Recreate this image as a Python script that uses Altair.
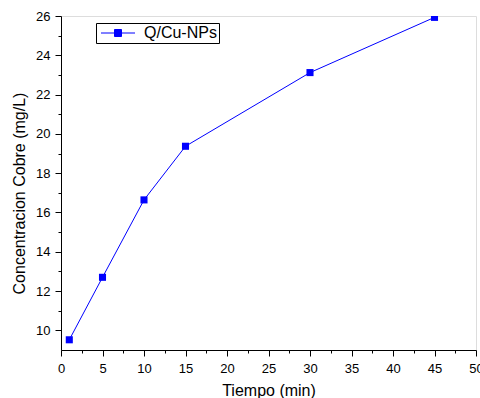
import altair as alt
import pandas as pd

# Data
tiempo = [1, 5, 10, 15, 30, 45]
cobre = [9.52, 12.70, 16.64, 19.37, 23.12, 25.93]
serie = ["Q/Cu-NPs"] * len(tiempo)

x_major = [0, 5, 10, 15, 20, 25, 30, 35, 40, 45, 50]
x_minor = [2.5, 7.5, 12.5, 17.5, 22.5, 27.5, 32.5, 37.5, 42.5, 47.5]
y_major = [10, 12, 14, 16, 18, 20, 22, 24, 26]
y_minor = [11, 13, 15, 17, 19, 21, 23, 25]

df = pd.DataFrame({"Tiempo": tiempo, "Cobre": cobre, "Serie": serie})

FONT = "Liberation Sans"
BLUE = "#0000ff"

xscale = alt.Scale(domain=[0, 50], nice=False, zero=False)
yscale = alt.Scale(domain=[9, 26], nice=False, zero=False)

# legend glyph: line segment with a square in the middle (units scaled by 5 px)
legend_path = "M-1,0L5.8,0M1.7,-0.7L3.1,-0.7L3.1,0.7L1.7,0.7Z"

base = alt.Chart(df)

line = base.mark_line(color=BLUE, strokeWidth=1, clip=True).encode(
    x=alt.X("Tiempo:Q", scale=xscale,
            axis=alt.Axis(values=x_major, title="Tiempo (min)", orient="bottom",
                          tickSize=6, labelPadding=6, labelFontSize=13,
                          titleFontSize=16, titleFontWeight="normal",
                          titleBaseline="alphabetic", titleY=45,
                          grid=False, domainColor="black", tickColor="black",
                          labelColor="black", titleColor="black",
                          labelFlush=False, labelOverlap=False)),
    y=alt.Y("Cobre:Q", scale=yscale,
            axis=alt.Axis(values=y_major, title="Concentracion Cobre (mg/L)", orient="left",
                          tickSize=6, labelPadding=5, labelFontSize=13,
                          titleFontSize=16, titleFontWeight="normal",
                          titleBaseline="alphabetic", titleX=-37, titleY=177,
                          grid=False, domainColor="black", tickColor="black",
                          labelColor="black", titleColor="black",
                          labelFlush=False, labelOverlap=False)),
    color=alt.Color("Serie:N", scale=alt.Scale(range=[BLUE]),
                    legend=alt.Legend(title=None, orient="none", legendX=35, legendY=7,
                                      symbolType=legend_path, symbolSize=100,
                                      symbolStrokeWidth=1, symbolStrokeColor=BLUE,
                                      symbolFillColor=BLUE, labelFontSize=16,
                                      labelColor="black", labelOffset=30,
                                      padding=2, strokeColor="black", fillColor="white",
                                      labelFont=FONT)),
)

points = base.mark_point(shape="square", filled=True, size=50, color=BLUE,
                         opacity=1, clip=True).encode(
    x=alt.X("Tiempo:Q", scale=xscale, axis=None),
    y=alt.Y("Cobre:Q", scale=yscale, axis=None),
)

minor = base.mark_point(opacity=0).encode(
    x=alt.X("Tiempo:Q", scale=xscale,
            axis=alt.Axis(values=x_minor, orient="bottom", labels=False, title=None,
                          tickSize=3, domain=False, grid=False, tickColor="black")),
    y=alt.Y("Cobre:Q", scale=yscale,
            axis=alt.Axis(values=y_minor, orient="left", labels=False, title=None,
                          tickSize=3, domain=False, grid=False, tickColor="black")),
)

chart = alt.layer(line, points, minor).resolve_axis(
    x="independent", y="independent"
).properties(
    width=415, height=334,
    autosize=alt.AutoSizeParams(type="none"),
    padding={"left": 61, "top": 16, "right": 4, "bottom": 48},
    background="white",
).configure_view(stroke=None).configure(font=FONT)

chart.save("out.html", embed_options={"renderer": "svg", "actions": False})
